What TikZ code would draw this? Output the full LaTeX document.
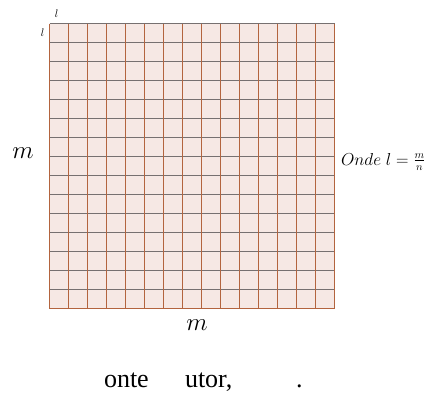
\documentclass[tikz,border=0pt]{standalone}
\usepackage{fontspec}
\newfontfamily\capfont{Liberation Serif}
\definecolor{cellfill}{HTML}{F6E8E4}
\definecolor{vline}{HTML}{B3643E}
\definecolor{hline}{HTML}{767070}
\tikzset{
  lbl/.style={inner sep=0pt, outer sep=0pt},
  gridv/.style={draw=vline, line width=1pt},
  gridh/.style={draw=hline, line width=1pt},
}
\begin{document}
\begin{tikzpicture}[x=1pt,y=-1pt]
\useasboundingbox (0,0) rectangle (429,392);
\def\gridx{49.5}\def\gridy{23.5}\def\cellsz{19}
% fill
\fill[cellfill] (\gridx,\gridy) rectangle ({\gridx+15*\cellsz},{\gridy+15*\cellsz});
% horizontal lines
\foreach \i in {0,...,14} {
  \draw[gridh] (\gridx,{\gridy+\i*\cellsz}) -- ({\gridx+15*\cellsz},{\gridy+\i*\cellsz});
}
\draw[gridv] (\gridx,{\gridy+15*\cellsz}) -- ({\gridx+15*\cellsz},{\gridy+15*\cellsz});
% vertical lines
\foreach \j in {0,...,15} {
  \draw[gridv] ({\gridx+\j*\cellsz},\gridy) -- ({\gridx+\j*\cellsz},{\gridy+15*\cellsz});
}
% labels
\node[lbl] (ltop) at (56.7,13.5) {\fontsize{11}{13}\selectfont$l$};
\node[lbl] (lleft) at (42.5,33) {\fontsize{11}{13}\selectfont$l$};
\node[lbl] (mleft) at (23,153) {\fontsize{30}{36}\selectfont$m$};
\node[lbl] (mbot) at (197,325) {\fontsize{30}{36}\selectfont$m$};
\node[lbl, anchor=base west] (onde) at (341,165) {\fontsize{16}{19}\selectfont$Onde\ l=\frac{m}{n}$};
\node[lbl, anchor=base west] (w1) at (104,387.5) {\fontsize{26}{30}\capfont onte};
\node[lbl, anchor=base west] (w2) at (185,387.5) {\fontsize{26}{30}\capfont utor,};
\node[lbl, anchor=base west] (w3) at (296,387.5) {\fontsize{26}{30}\capfont .};
\end{tikzpicture}
\end{document}
